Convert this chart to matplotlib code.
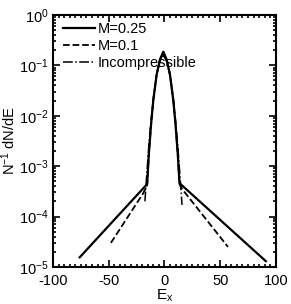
import numpy as np
import matplotlib.pyplot as plt
from matplotlib.ticker import MultipleLocator, LogLocator, NullFormatter

plt.rcParams['font.family'] = ['Liberation Sans', 'DejaVu Sans']
plt.rcParams['mathtext.fontset'] = 'custom'
plt.rcParams['mathtext.rm'] = 'Liberation Sans'
plt.rcParams['mathtext.it'] = 'Liberation Sans:italic'
plt.rcParams['axes.unicode_minus'] = False

# M=0.25
ex_m025 = [-76, -15.5, -14, -12, -10, -7, -4, -1, 2, 5, 8, 10, 12, 13.5, 91]
dn_m025 = [1.55e-5, 4.4e-4, 1.7e-3, 6.6e-3, 2.0e-2, 6.5e-2, 0.13, 0.186,
           0.13, 6.5e-2, 2.0e-2, 6.6e-3, 1.7e-3, 4.6e-4, 1.3e-5]

# M=0.1
ex_m01 = [-48, -19, -15.5, -14, -12, -10, -7, -4, -1, 2, 5, 8, 10, 12, 13.5, 15.5, 57]
dn_m01 = [3e-5, 2.9e-4, 4.2e-4, 1.7e-3, 6.6e-3, 2.0e-2, 6.5e-2, 0.13, 0.18,
          0.13, 6.5e-2, 2.0e-2, 6.6e-3, 1.7e-3, 4.4e-4, 3.6e-4, 2.5e-5]

# Incompressible
ex_inc = [-17.5, -16, -14, -12, -10, -7, -4, -1, 2, 5, 8, 10, 12, 14, 15.8]
dn_inc = [2e-4, 6.2e-4, 2.5e-3, 8.0e-3, 2.15e-2, 6.5e-2, 0.12, 0.16,
          0.12, 6.5e-2, 2.15e-2, 8.0e-3, 2.5e-3, 6.2e-4, 1.7e-4]

fig = plt.figure(figsize=(2.91, 3.04), dpi=100)
ax = fig.add_axes([0.182, 0.122, 0.766, 0.829])

ax.plot(ex_m025, dn_m025, 'k-', lw=1.6, label='M=0.25')
ax.plot(ex_m01, dn_m01, 'k--', lw=1.3, label='M=0.1')
ax.plot(ex_inc, dn_inc, 'k-.', lw=1.1, label='Incompressible')

ax.set_yscale('log')
ax.set_xlim(-100, 100)
ax.set_ylim(1e-5, 1)
ax.xaxis.set_major_locator(MultipleLocator(50))
ax.xaxis.set_minor_locator(MultipleLocator(5))
ax.yaxis.set_major_locator(LogLocator(base=10, numticks=10))
ax.yaxis.set_minor_locator(LogLocator(base=10, subs=np.arange(2, 10), numticks=10))
ax.yaxis.set_minor_formatter(NullFormatter())

ax.tick_params(which='both', direction='in', top=True, right=True, labelsize=10.5, width=1.2)
ax.tick_params(which='major', length=5)
ax.tick_params(which='minor', length=2.5)
ax.tick_params(axis='x', pad=5)
ax.tick_params(axis='y', pad=3)
for s in ax.spines.values():
    s.set_linewidth(1.5)

ax.set_xlabel(r'$\mathrm{E_x}$', fontsize=11, labelpad=0)
ax.set_ylabel('N$^{-1}$ dN/dE', fontsize=10.5)
ax.yaxis.set_label_coords(-0.158, 0.5)

ax.legend(loc='upper left', bbox_to_anchor=(0.019, 0.995), frameon=False, fontsize=10.5,
          handlelength=2.2, handletextpad=0.15, labelspacing=0.2, borderaxespad=0)

fig.savefig('out.png', dpi=100)
